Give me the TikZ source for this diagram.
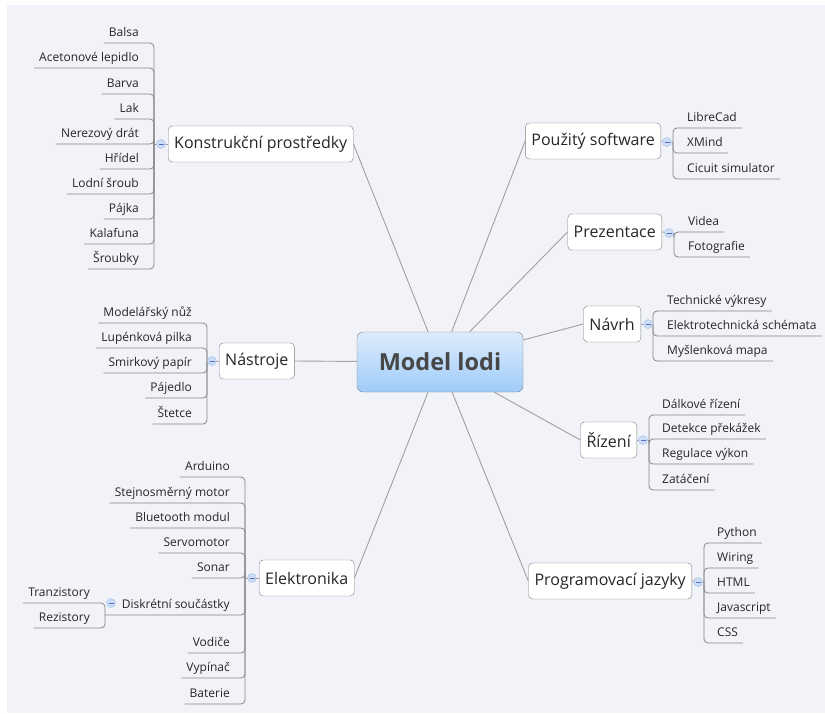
\documentclass[tikz,border=0pt]{standalone}
\usepackage{fontspec}
\setmainfont{Open Sans}
\usetikzlibrary{positioning, calc}
\definecolor{mapbg}{RGB}{242,243,248}
\definecolor{edgegray}{RGB}{160,160,160}
\definecolor{twiggray}{RGB}{135,135,135}
\definecolor{boxgray}{RGB}{128,128,128}
\definecolor{inkgray}{RGB}{38,38,38}
\definecolor{ctrtop}{RGB}{222,236,252}
\definecolor{ctrbot}{RGB}{158,203,249}
\definecolor{knobfill}{RGB}{204,221,246}
\definecolor{knobdraw}{RGB}{160,189,236}

\begin{document}
\begin{tikzpicture}[x=1pt, y=-1pt,
    central/.style={draw=boxgray, rounded corners=6pt, top color=ctrtop, bottom color=ctrbot,
        minimum width=166pt, minimum height=60pt, text=inkgray!85,
        font=\fontsize{23.5}{26}\selectfont\bfseries},
    topic/.style={draw=boxgray, fill=white, rounded corners=4pt, minimum height=36pt,
        inner xsep=6pt, text=inkgray, font=\fontsize{16}{19}\selectfont},
    leaf/.style={inner xsep=5pt, inner ysep=4pt, text height=9pt, text depth=2pt,
        text=inkgray, font=\fontsize{12}{14}\selectfont},
    edge/.style={draw=edgegray, line width=0.9pt},
    twig/.style={draw=twiggray, line width=0.8pt, rounded corners=4pt},
    knob/.style={circle, draw=knobdraw, fill=knobfill, minimum size=9pt, inner sep=0pt,
        path picture={\draw[knobdraw!70!blue!80!black, line width=0.6pt]
            ([xshift=2pt]path picture bounding box.west) -- ([xshift=-2pt]path picture bounding box.east);}}]

    % Frame
    \useasboundingbox (0,0) rectangle (825,713);
    \fill[white] (0,0) rectangle (825,713);
    \fill[mapbg] (7,5) rectangle (825,713);

    % Central topic
    \node[central] (model) at (440,362) {Model lodi};

    % Main topics
    \node[topic, anchor=west] (konst) at (168,144) {Konstrukční prostředky};
    \node[topic, anchor=west] (nastr) at (219,361) {Nástroje};
    \node[topic, anchor=west] (elek) at (259,578) {Elektronika};
    \node[topic, anchor=east] (soft) at (661,141) {Použitý software};
    \node[topic, anchor=east] (prez) at (662,232) {Prezentace};
    \node[topic, anchor=east] (navrh) at (641,324) {Návrh};
    \node[topic, anchor=east] (rizeni) at (637,440) {Řízení};
    \node[topic, anchor=east] (prog) at (692,581) {Programovací jazyky};

    \draw[edge] (model) -- (konst.east);
    \draw[edge] (model) -- (nastr.east);
    \draw[edge] (model) -- (elek.east);
    \draw[edge] (model) -- (soft.west);
    \draw[edge] (model) -- (prez.west);
    \draw[edge] (model) -- (navrh.west);
    \draw[edge] (model) -- (rizeni.west);
    \draw[edge] (model) -- (prog.west);

    % Knob and junction points
    \coordinate (konst-k) at (161,144);  \coordinate (konst-j) at (154,144);
    \coordinate (nastr-k) at (212,361);  \coordinate (nastr-j) at (207,361);
    \coordinate (elek-k) at (252,578);   \coordinate (elek-j) at (245,578);
    \coordinate (soft-k) at (667,142);   \coordinate (soft-j) at (673,142);
    \coordinate (prez-k) at (669,233);   \coordinate (prez-j) at (674,233);
    \coordinate (navrh-k) at (648,324);  \coordinate (navrh-j) at (653,324);
    \coordinate (rizeni-k) at (643,440); \coordinate (rizeni-j) at (649,440);
    \coordinate (prog-k) at (698,582);   \coordinate (prog-j) at (704,582);
    \coordinate (disk-k) at (111,603);   \coordinate (disk-j) at (105,615);

    \draw[edge] (konst.west) -- (konst-j);
    \draw[edge] (nastr.west) -- (nastr-j);
    \draw[edge] (elek.west) -- (elek-j);
    \draw[edge] (soft.east) -- (soft-j);
    \draw[edge] (prez.east) -- (prez-j);
    \draw[edge] (navrh.east) -- (navrh-j);
    \draw[edge] (rizeni.east) -- (rizeni-j);
    \draw[edge] (prog.east) -- (prog-j);

    % Konstrukcni prostredky
    \foreach \y/\t [count=\i] in {43/Balsa, 68/Acetonové lepidlo, 94/Barva, 119/Lak,
            144/Nerezový drát, 169/Hřídel, 194/Lodní šroub, 219/Pájka, 244/Kalafuna, 269/Šroubky} {
        \node[leaf, anchor=south east] (konst-\i) at (144,\y) {\t};
        \draw[twig] (konst-j) |- (konst-\i.south west);
    }

    % Nastroje
    \foreach \y/\t [count=\i] in {323/Modelářský nůž, 348/Lupénková pilka, 373/Smirkový papír,
            398/Pájedlo, 424/Štetce} {
        \node[leaf, anchor=south east] (nastr-\i) at (197,\y) {\t};
        \draw[twig] (nastr-j) |- (nastr-\i.south west);
    }

    % Elektronika
    \foreach \y/\t [count=\i] in {477/Arduino, 503/Stejnosměrný motor, 528/Bluetooth modul,
            553/Servomotor, 578/Sonar, 653/Vodiče, 678/Vypínač, 704/Baterie} {
        \node[leaf, anchor=south east] (elek-\i) at (235,\y) {\t};
        \draw[twig] (elek-j) |- (elek-\i.south west);
    }
    \node[leaf, anchor=south east] (disk) at (235,615) {Diskrétní součástky};
    \draw[twig] (elek-j) |- (disk-j);
    \node[leaf, anchor=south east] (tranz) at (95,603) {Tranzistory};
    \node[leaf, anchor=south east] (rezis) at (95,628) {Rezistory};
    \draw[twig] (disk-j) |- (tranz.south west);
    \draw[twig] (disk-j) |- (rezis.south west);

    % Pouzity software
    \foreach \y/\t [count=\i] in {128/LibreCad, 153/XMind, 179/Cicuit simulator} {
        \node[leaf, anchor=south west] (soft-\i) at (682,\y) {\t};
        \draw[twig] (soft-j) |- (soft-\i.south east);
    }

    % Prezentace
    \foreach \y/\t [count=\i] in {232/Videa, 257/Fotografie} {
        \node[leaf, anchor=south west] (prez-\i) at (683,\y) {\t};
        \draw[twig] (prez-j) |- (prez-\i.south east);
    }

    % Navrh
    \foreach \y/\t [count=\i] in {311/Technické výkresy, 336/Elektrotechnická schémata,
            361/Myšlenková mapa} {
        \node[leaf, anchor=south west] (navrh-\i) at (662,\y) {\t};
        \draw[twig] (navrh-j) |- (navrh-\i.south east);
    }

    % Rizeni
    \foreach \y/\t [count=\i] in {415/Dálkové řízení, 439/Detekce překážek,
            464/Regulace výkon, 490/Zatáčení} {
        \node[leaf, anchor=south west] (rizeni-\i) at (657,\y) {\t};
        \draw[twig] (rizeni-j) |- (rizeni-\i.south east);
    }

    % Programovaci jazyky
    \foreach \y/\t [count=\i] in {543/Python, 568/Wiring, 593/HTML, 618/Javascript, 643/CSS} {
        \node[leaf, anchor=south west] (prog-\i) at (712,\y) {\t};
        \draw[twig] (prog-j) |- (prog-\i.south east);
    }

    % Collapse knobs
    \foreach \k in {konst, nastr, elek, soft, prez, navrh, rizeni, prog, disk}
        \node[knob] (\k-kb) at (\k-k) {};
\end{tikzpicture}
\end{document}
